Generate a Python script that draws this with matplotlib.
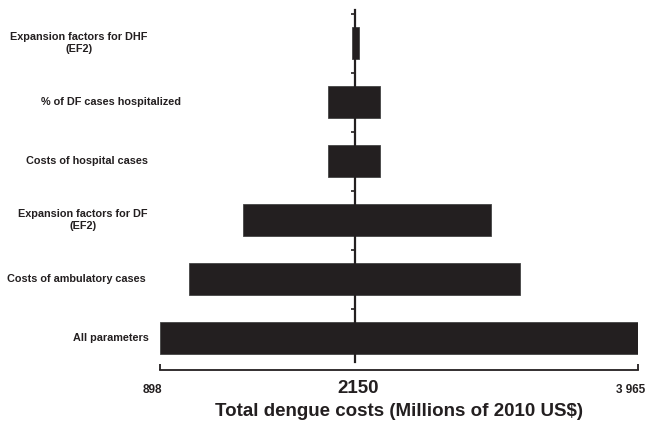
import numpy as np
import matplotlib.pyplot as plt
from matplotlib.transforms import blended_transform_factory

categories = ['All parameters', 'Costs of ambulatory cases', 'Expansion factors for DF\n(EF2)',
              'Costs of hospital cases', '% of DF cases hospitalized', 'Expansion factors for DHF\n(EF2)']
low = [898, 1084, 1430, 1976, 1976, 2130]
high = [3965, 3208, 3022, 2310, 2310, 2175]
base = 2150
xmin, xmax = 898, 3965

# label centres in pixels (labels are not aligned in the original)
label_x = [111, 76, 83, 87.5, 111, 79]

plt.rcParams['font.family'] = ['Liberation Sans', 'DejaVu Sans']
dark = '#231f20'

fig = plt.figure(figsize=(6.47, 4.21), dpi=100)
ax = fig.add_axes([160 / 647, 51 / 421, 478 / 647, 360 / 421])

y = np.arange(len(categories))
ax.barh(y, np.array(high) - np.array(low), left=low, height=0.55,
        color=dark, edgecolor='#444444', linewidth=0.6, zorder=2)

ax.set_xlim(xmin, xmax)
ax.set_ylim(-0.54, 5.56)

for s in ['top', 'right']:
    ax.spines[s].set_visible(False)
ax.spines['left'].set_position(('data', base))
ax.spines['left'].set_bounds(-0.41, 5.56)
ax.spines['left'].set_linewidth(1.6)
ax.spines['left'].set_color(dark)
ax.spines['left'].set_zorder(3)
ax.spines['bottom'].set_linewidth(1.3)
ax.spines['bottom'].set_color(dark)

ax.set_yticks(y + 0.5)
ax.set_yticklabels([])
ax.tick_params(axis='y', direction='out', length=3, width=1.2, color=dark)

ax.set_xticks([xmin, xmax])
ax.set_xticklabels([])
ax.tick_params(axis='x', direction='in', length=4, width=1.3, color=dark)

# x tick labels drawn on a common baseline
xlabels = [(xmin, '898', 8.5, -5.5, 'center'),
           (base, '2150', 13.5, 2.5, 'center'),
           (xmax, '3 965', 8.5, 5.5, 'right')]
for xv, txt, fs, dx, ha in xlabels:
    ax.annotate(txt, xy=(xv, -0.54), xycoords='data', xytext=(dx, -16.5),
                textcoords='offset points', ha=ha, va='baseline',
                fontsize=fs, fontweight='bold', color=dark)

ax.set_xlabel('Total dengue costs (Millions of 2010 US$)', fontsize=13.5,
              fontweight='bold', color=dark, va='baseline')
ax.xaxis.set_label_coords(0.5, -46 / 360)

tr = blended_transform_factory(fig.transFigure, ax.transData)
for yi, lab, lx in zip(y, categories, label_x):
    ax.text(lx / 647, yi, lab, transform=tr, ha='center', va='center',
            fontsize=7.8, fontweight='bold', color=dark, multialignment='center')

fig.savefig('out.png', dpi=100)
